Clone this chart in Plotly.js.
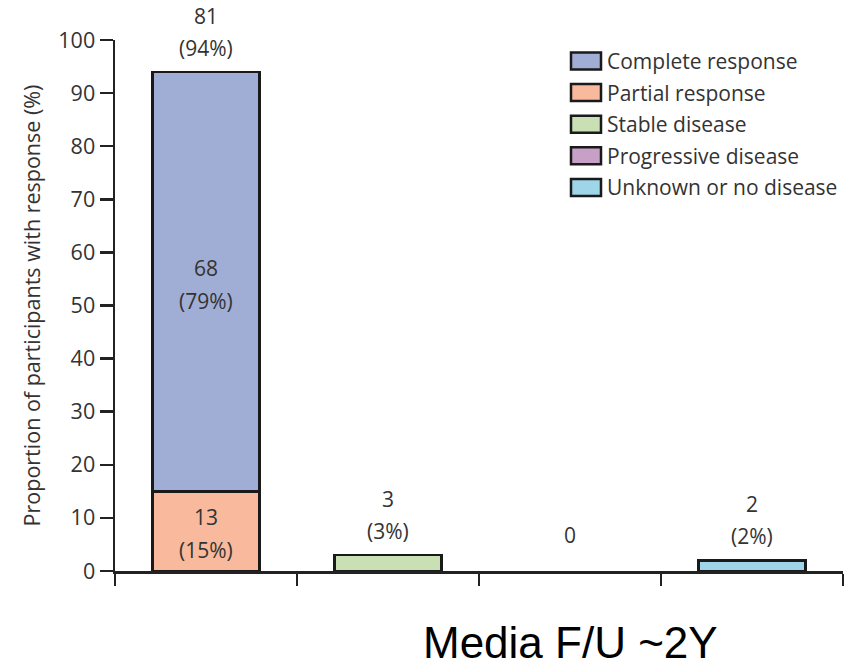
<!DOCTYPE html>
<html>
<head>
<meta charset="utf-8">
<script src="https://cdn.plot.ly/plotly-3.0.1.min.js"></script>
<style>html,body{margin:0;padding:0;background:#fff;}#chart{width:846px;height:668px;}</style>
</head>
<body>
<div id="chart"></div>
<script>
// ---- data ----
var categories = ["Objective response", "Stable disease", "Progressive disease", "Unknown or no disease"];
var seriesNames = ["Complete response", "Partial response", "Stable disease", "Progressive disease", "Unknown or no disease"];
var seriesColors = ["#a0aed5", "#f9b99c", "#c9e0b5", "#c6a0c6", "#9ed5e8"];
// which category each series is stacked on
var seriesCategory = ["Objective response", "Objective response", "Stable disease", "Progressive disease", "Unknown or no disease"];
var seriesPercent = [79, 15, 3, 0, 2];
var seriesCount = [68, 13, 3, 0, 2];
var totalCount = [81, 3, 0, 2];
var totalPercent = [94, 3, 0, 2];
var yTicks = [0, 10, 20, 30, 40, 50, 60, 70, 80, 90, 100];

// ---- traces (partial first so it sits at the bottom of the stack) ----
var drawOrder = [1, 0, 2, 3, 4];
var traces = drawOrder.map(function (i) {
  return {
    type: "bar",
    name: seriesNames[i],
    x: [seriesCategory[i]],
    y: [seriesPercent[i]],
    width: 0.59,
    marker: { color: seriesColors[i], line: { color: "#1a1a1a", width: seriesPercent[i] > 0 ? 2.5 : 0 } },
    showlegend: false,
    hoverinfo: "none"
  };
});

var txtFont = { family: "Open Sans, sans-serif", size: 21, color: "#333" };
var annotations = [];
// labels inside the stacked first bar
var base = 0;
[1, 0].forEach(function (i) {
  var mid = base + seriesPercent[i] / 2;
  annotations.push({ x: seriesCategory[i], y: mid, xref: "x", yref: "y", text: String(seriesCount[i]), showarrow: false, font: txtFont, yshift: 14 });
  annotations.push({ x: seriesCategory[i], y: mid, xref: "x", yref: "y", text: "(" + seriesPercent[i] + "%)", showarrow: false, font: txtFont, yshift: -19 });
  base += seriesPercent[i];
});
// labels above each bar
categories.forEach(function (c, k) {
  if (totalCount[k] === 0) {
    annotations.push({ x: c, y: totalPercent[k], xref: "x", yref: "y", text: String(totalCount[k]), showarrow: false, font: txtFont, yshift: 36 });
  } else {
    annotations.push({ x: c, y: totalPercent[k], xref: "x", yref: "y", text: String(totalCount[k]), showarrow: false, font: txtFont, yshift: 56 });
    annotations.push({ x: c, y: totalPercent[k], xref: "x", yref: "y", text: "(" + totalPercent[k] + "%)", showarrow: false, font: txtFont, yshift: 24 });
  }
});

// custom legend
var plotW = 728, plotH = 531;
var shapes = [];
seriesNames.forEach(function (n, i) {
  var cy = 510 - i * 31.6; // pixel above plot bottom
  shapes.push({
    type: "rect", xref: "paper", yref: "paper",
    x0: 456 / plotW, x1: 486 / plotW,
    y0: (cy - 8.5) / plotH, y1: (cy + 8.5) / plotH,
    fillcolor: seriesColors[i], line: { color: "#1a1a1a", width: 2.5 }
  });
  annotations.push({
    xref: "paper", yref: "paper", x: 490 / plotW, y: cy / plotH,
    xanchor: "left", yanchor: "middle", text: n, showarrow: false, font: txtFont
  });
});

annotations.push({
  xref: "paper", yref: "paper", x: 0.625, y: -0.135, xanchor: "center", yanchor: "middle",
  text: "Media F/U ~2Y", showarrow: false,
  font: { family: "Liberation Sans, Arial, sans-serif", size: 44, color: "#000" }
});

var layout = {
  width: 846, height: 668,
  margin: { l: 115, r: 3, t: 40, b: 97 },
  paper_bgcolor: "#fff", plot_bgcolor: "#fff",
  barmode: "stack",
  showlegend: false,
  xaxis: {
    type: "category",
    categoryorder: "array", categoryarray: categories,
    range: [-0.5, 3.5],
    tickson: "boundaries",
    ticks: "outside", ticklen: 12, tickwidth: 2.5, tickcolor: "#222",
    showticklabels: false,
    showline: true, linecolor: "#222", linewidth: 2.5,
    showgrid: false, zeroline: false, fixedrange: true
  },
  yaxis: {
    range: [0, 100],
    tickvals: yTicks,
    ticks: "outside", ticklen: 13, tickwidth: 2.5, tickcolor: "#222",
    tickfont: { family: "Open Sans, sans-serif", size: 21.5, color: "#333" },
    showline: true, linecolor: "#222", linewidth: 2.5,
    showgrid: false, zeroline: false, fixedrange: true,
    title: { text: "Proportion of participants with response (%)", standoff: 12,
      font: { family: "Open Sans, sans-serif", size: 21.5, color: "#333" } }
  },
  shapes: shapes,
  annotations: annotations
};

Plotly.newPlot("chart", traces, layout, { displayModeBar: false, staticPlot: true });
</script>
</body>
</html>
